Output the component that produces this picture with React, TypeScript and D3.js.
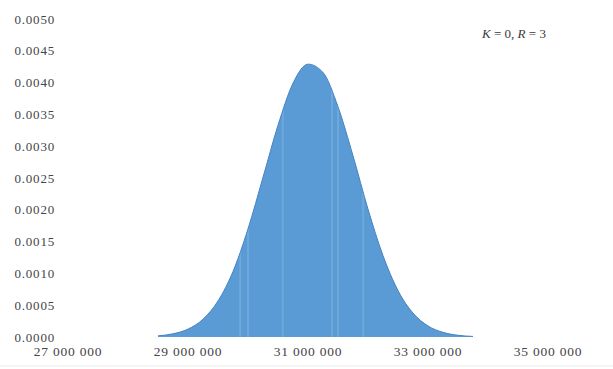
import React from "react";
import * as d3 from "d3";

// Density curve read at 250 000 steps
const xValues = [
  28500000, 28750000, 29000000, 29250000, 29500000, 29750000, 30000000, 30250000,
  30500000, 30750000, 31000000, 31250000, 31500000, 31750000, 32000000, 32250000,
  32500000, 32750000, 33000000, 33250000, 33500000, 33750000,
];
const densities = [
  0.000018, 0.00005, 0.000124, 0.00028, 0.000567, 0.00103, 0.0017, 0.00251,
  0.00333, 0.00399, 0.00429, 0.00416, 0.00362, 0.00285, 0.00201, 0.00128,
  0.00073, 0.000376, 0.000174, 0.000073, 0.000027, 0.000009,
];

const yTicks = [0, 0.0005, 0.001, 0.0015, 0.002, 0.0025, 0.003, 0.0035, 0.004, 0.0045, 0.005];
const yTickLabels = ["0.0000", "0.0005", "0.0010", "0.0015", "0.0020", "0.0025", "0.0030", "0.0035", "0.0040", "0.0045", "0.0050"];
const xTicks = [27000000, 29000000, 31000000, 33000000, 35000000];
const xTickLabels = ["27 000 000", "29 000 000", "31 000 000", "33 000 000", "35 000 000"];

// Lighter seams inside the filled area
const seams = [29870000, 30000000, 30580000, 31400000, 31500000, 31920000];

const W = 613;
const H = 369;

export default function App() {
  const x = d3.scaleLinear().domain([27000000, 35000000]).range([68, 548]);
  const y = d3.scaleLinear().domain([0, 0.005]).range([337, 19]);

  const pts: [number, number][] = xValues.map((v, i) => [v, densities[i]]);
  const area = d3
    .area<[number, number]>()
    .x((d) => x(d[0]))
    .y0(y(0))
    .y1((d) => y(d[1]))
    .curve(d3.curveMonotoneX);
  const line = d3
    .line<[number, number]>()
    .x((d) => x(d[0]))
    .y((d) => y(d[1]))
    .curve(d3.curveMonotoneX);

  const font = "'Liberation Serif', 'Times New Roman', serif";

  return (
    <svg
      width={W}
      height={H}
      viewBox={`0 0 ${W} ${H}`}
      style={{ position: "absolute", left: 0, top: 0, background: "#ffffff" }}
    >
      <defs>
        <clipPath id="areaClip">
          <path d={area(pts) || ""} />
        </clipPath>
      </defs>

      <path d={area(pts) || ""} fill="#5b9bd5" />
      <g clipPath="url(#areaClip)">
        {seams.map((s, i) => (
          <line
            key={i}
            x1={x(s)}
            x2={x(s)}
            y1={y(0.005)}
            y2={y(0)}
            stroke="#ffffff"
            strokeOpacity={0.12}
            strokeWidth={2}
          />
        ))}
      </g>
      <path d={line(pts) || ""} fill="none" stroke="#4683c2" strokeWidth={1} />

      {yTicks.map((t, i) => (
        <text
          key={i}
          x={55}
          y={y(t)}
          dy="0.35em"
          textAnchor="end"
          fontFamily={font}
          fontSize={13}
          letterSpacing={0.8}
          fill="#444"
        >
          {yTickLabels[i]}
        </text>
      ))}

      {xTicks.map((t, i) => (
        <text
          key={i}
          x={x(t)}
          y={356}
          textAnchor="middle"
          fontFamily={font}
          fontSize={13.5}
          letterSpacing={0.8}
          fill="#444"
        >
          {xTickLabels[i]}
        </text>
      ))}

      <line x1={0} x2={W} y1={366} y2={366} stroke="#ececec" strokeWidth={1} />

      <text x={514} y={38} textAnchor="middle" fontFamily={font} fontSize={13} fill="#3a3a3a">
        <tspan fontStyle="italic">K</tspan>
        <tspan> = 0, </tspan>
        <tspan fontStyle="italic">R</tspan>
        <tspan> = 3</tspan>
      </text>
    </svg>
  );
}
